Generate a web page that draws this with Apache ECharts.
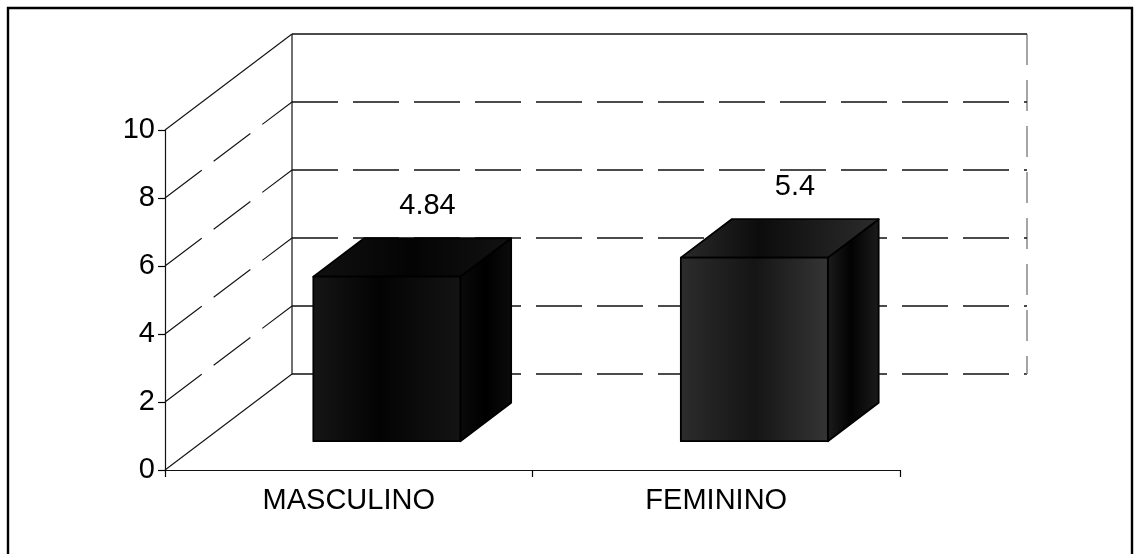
<!DOCTYPE html>
<html>
<head>
<meta charset="utf-8">
<script src="https://cdn.jsdelivr.net/npm/echarts@6/dist/echarts.min.js"></script>
<style>
  html, body { margin: 0; padding: 0; background: #fff; }
  #chart { width: 1135px; height: 554px; }
</style>
</head>
<body>
<div id="chart"></div>
<script>
// Categories, values and value-axis ticks
const categories = ['MASCULINO', 'FEMININO'];
const values = [4.84, 5.4];
const yTicks = [0, 2, 4, 6, 8, 10];

// Perspective offset of the back wall relative to the front plane (px)
const DX = 127;
const DY = -96;
// Bars sit between these depth fractions
const BAR_Z0 = 0.3;
const BAR_DEPTH = 0.4;
const BAR_WIDTH_RATIO = 0.40;
const LABEL_Z = 0.62;
const FONT = '"Liberation Sans", Arial, Helvetica, sans-serif';
const FONT_SIZE = 29;

const G = echarts.graphic.LinearGradient;
const shades = [
  {
    front: [[0, '#161616'], [0.45, '#030303'], [1, '#141414']],
    top: [[0, '#101010'], [0.5, '#040404'], [1, '#121212']],
    side: [[0, '#0a0a0a'], [0.5, '#000000'], [1, '#0c0c0c']]
  },
  {
    front: [[0, '#2c2c2c'], [0.5, '#151515'], [1, '#353535']],
    top: [[0, '#2a2a2a'], [0.4, '#0c0c0c'], [1, '#2c2c2c']],
    side: [[0, '#1c1c1c'], [0.45, '#020202'], [1, '#1c1c1c']]
  }
];
function grad(stops) {
  return new G(0, 0, 1, 0, stops.map(s => ({ offset: s[0], color: s[1] })));
}

const lineColor = '#111';
const dash = [46, 15];

function renderWalls(params, api) {
  const cs = params.coordSys;
  const t = api.value(1);
  const y = api.coord([0, t])[1];
  const left = cs.x, right = cs.x + cs.width;
  const maxT = yTicks[yTicks.length - 1];
  const solid = (t === maxT);
  const children = [];
  // back-wall gridline
  children.push({
    type: 'line',
    shape: { x1: left + DX, y1: y + DY, x2: right + DX, y2: y + DY },
    style: { stroke: lineColor, lineWidth: 1.3, lineDash: solid ? null : dash }
  });
  // left-wall diagonal
  children.push({
    type: 'line',
    shape: { x1: left, y1: y, x2: left + DX, y2: y + DY },
    style: { stroke: lineColor, lineWidth: 1.1, lineDash: (solid || t === 0) ? null : dash }
  });
  if (params.dataIndex === 0) {
    // back wall vertical edges
    children.push({
      type: 'line',
      shape: { x1: left + DX, y1: cs.y + DY, x2: left + DX, y2: cs.y + cs.height + DY },
      style: { stroke: lineColor, lineWidth: 1.2 }
    });
    children.push({
      type: 'line',
      shape: { x1: right + DX, y1: cs.y + DY, x2: right + DX, y2: cs.y + cs.height + DY },
      style: { stroke: '#888', lineWidth: 1.5, lineDash: [31, 15] }
    });
  }
  return { type: 'group', children: children };
}

function renderBar(params, api) {
  const i = api.value(0);
  const v = api.value(1);
  const base = api.coord([i, 0]);
  const top = api.coord([i, v]);
  const band = api.size([1, 0])[0];
  const w = band * BAR_WIDTH_RATIO;
  const x0 = base[0] - w / 2 + BAR_Z0 * DX;
  const x1 = x0 + w;
  const yb = base[1] + BAR_Z0 * DY;
  const yt = top[1] + BAR_Z0 * DY;
  const ox = BAR_DEPTH * DX, oy = BAR_DEPTH * DY;
  const sh = shades[i % shades.length];
  const stroke = { stroke: '#000', lineWidth: 1.8, lineJoin: 'round' };
  return {
    type: 'group',
    children: [
      {
        type: 'polygon',
        shape: { points: [[x1, yt], [x1 + ox, yt + oy], [x1 + ox, yb + oy], [x1, yb]] },
        style: Object.assign({ fill: grad(sh.side) }, stroke)
      },
      {
        type: 'polygon',
        shape: { points: [[x0, yt], [x0 + ox, yt + oy], [x1 + ox, yt + oy], [x1, yt]] },
        style: Object.assign({ fill: grad(sh.top) }, stroke)
      },
      {
        type: 'polygon',
        shape: { points: [[x0, yt], [x1, yt], [x1, yb], [x0, yb]] },
        style: Object.assign({ fill: grad(sh.front) }, stroke)
      },
      {
        type: 'text',
        style: {
          text: String(values[i]),
          x: base[0] + LABEL_Z * DX,
          y: top[1] + LABEL_Z * DY - 40,
          align: 'center',
          verticalAlign: 'middle',
          fill: '#000',
          font: FONT_SIZE + 'px ' + FONT
        }
      }
    ]
  };
}

const chart = echarts.init(document.getElementById('chart'), null, { renderer: 'canvas' });
chart.setOption({
  backgroundColor: '#fff',
  animation: false,
  graphic: [{
    type: 'rect',
    shape: { x: 8, y: 8, width: 1124, height: 560 },
    style: { fill: 'none', stroke: '#000', lineWidth: 2.4 },
    silent: true,
    z: 100
  }],
  grid: { left: 165, right: 235, top: 130, bottom: 84 },
  xAxis: {
    type: 'category',
    data: categories,
    axisLine: { lineStyle: { color: '#111', width: 1.2 } },
    axisTick: { show: true, length: 7, lineStyle: { color: '#000', width: 1.2 } },
    axisLabel: { color: '#000', fontSize: FONT_SIZE, fontFamily: FONT, margin: 16 },
    splitLine: { show: false }
  },
  yAxis: {
    type: 'value',
    min: 0,
    max: 10,
    interval: 2,
    axisLine: { show: true, lineStyle: { color: '#111', width: 1.2 } },
    axisTick: { show: true, length: 7, lineStyle: { color: '#000', width: 1.2 } },
    axisLabel: { color: '#000', fontSize: FONT_SIZE, fontFamily: FONT, margin: 10 },
    splitLine: { show: false }
  },
  series: [
    {
      type: 'custom',
      renderItem: renderWalls,
      data: yTicks.map(t => [0, t]),
      clip: false,
      silent: true,
      z: 1
    },
    {
      type: 'custom',
      renderItem: renderBar,
      data: values.map((v, i) => [i, v]),
      clip: false,
      silent: true,
      z: 5
    }
  ]
});
</script>
</body>
</html>
